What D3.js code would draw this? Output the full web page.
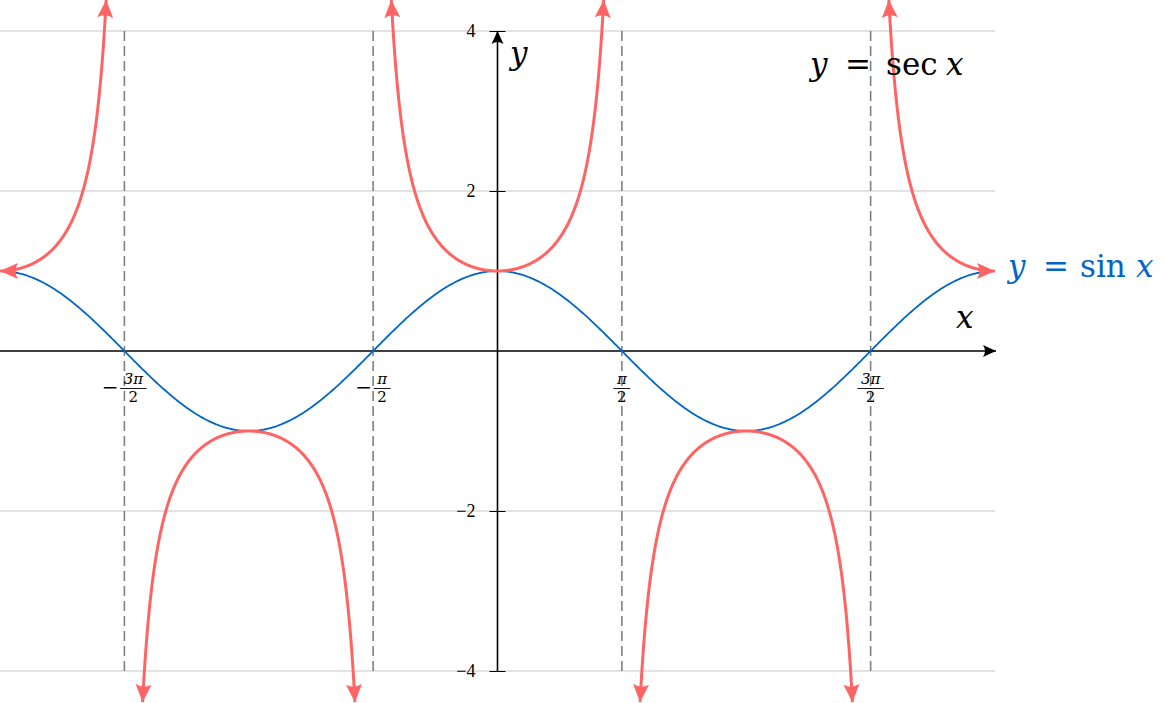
<!DOCTYPE html>
<html>
<head>
<meta charset="utf-8">
<script src="https://cdn.jsdelivr.net/npm/d3@7"></script>
<style>
  html, body { margin: 0; padding: 0; background: #fff; }
  svg { display: block; }
  text { font-family: "DejaVu Serif", "Liberation Serif", serif; }
</style>
</head>
<body>
<svg id="chart" width="1166" height="703"></svg>
<script>
// chart data
var PI = Math.PI;
var xDomain = [-2 * PI, 2 * PI];
var yDomain = [-4, 4];
var yTicks = [-4, -2, 2, 4];
var yTickLabels = ['\u22124', '\u22122', '2', '4'];
var gridValues = [-4, -2, 2, 4];
var asymptotes = [-3 * PI / 2, -PI / 2, PI / 2, 3 * PI / 2];
var xTickNum = ['3\u03c0', '\u03c0', '\u03c0', '3\u03c0'];
var xTickNeg = [true, true, false, false];
var branchCenters = [-2 * PI, -PI, 0, PI, 2 * PI];
var secCut = 4.39;

var svg = d3.select('#chart');

var x = d3.scaleLinear().domain(xDomain).range([0, 995]);
var y = d3.scaleLinear().domain(yDomain).range([671, 31]);

var red = '#ff6464', blue = '#0066c8';

// markers
var defs = svg.append('defs');
defs.append('marker')
  .attr('id', 'redArrow')
  .attr('markerUnits', 'userSpaceOnUse')
  .attr('viewBox', '-19 -9 20 18')
  .attr('refX', 0).attr('refY', 0)
  .attr('markerWidth', 20).attr('markerHeight', 18)
  .attr('orient', 'auto-start-reverse')
  .append('path')
  .attr('d', 'M0,0 L-18,-8 Q-13,0 -18,8 Z')
  .attr('fill', red);

defs.append('marker')
  .attr('id', 'blackArrow')
  .attr('markerUnits', 'userSpaceOnUse')
  .attr('viewBox', '-14 -7 15 14')
  .attr('refX', 0).attr('refY', 0)
  .attr('markerWidth', 15).attr('markerHeight', 14)
  .attr('orient', 'auto')
  .append('path')
  .attr('d', 'M0,0 L-13,-6 Q-9,0 -13,6 Z')
  .attr('fill', '#000');

// horizontal grid
svg.append('g').selectAll('line').data(gridValues).join('line')
  .attr('x1', 0).attr('x2', 995)
  .attr('y1', function (d) { return y(d); })
  .attr('y2', function (d) { return y(d); })
  .attr('stroke', '#c8c8c8').attr('stroke-width', 1.2);

// asymptotes
svg.append('g').selectAll('line').data(asymptotes).join('line')
  .attr('x1', function (d) { return x(d); })
  .attr('x2', function (d) { return x(d); })
  .attr('y1', y(4)).attr('y2', y(-4))
  .attr('stroke', '#808080').attr('stroke-width', 1.6)
  .attr('stroke-dasharray', '10,5');

// x axis
svg.append('line')
  .attr('x1', 0).attr('x2', 996)
  .attr('y1', y(0)).attr('y2', y(0))
  .attr('stroke', '#000').attr('stroke-width', 1.6)
  .attr('marker-end', 'url(#blackArrow)');

// y axis
var yAxis = d3.axisLeft(y).tickValues(yTicks).tickSize(8).tickPadding(14)
  .tickFormat(function (d, i) { return yTickLabels[i]; });
var gy = svg.append('g').attr('transform', 'translate(' + x(0) + ',0)').call(yAxis)
  .attr('font-size', 18).attr('font-family', '"Liberation Serif", serif');
gy.select('.domain').remove();
gy.selectAll('.tick line').attr('x1', 8).attr('stroke', '#000').attr('stroke-width', 1);
gy.selectAll('.tick text')
  .attr('font-size', 18)
  .style('font-family', '"Liberation Serif", serif')
  .style('font-size', '18px').attr('fill', '#000');
svg.append('line')
  .attr('x1', x(0)).attr('x2', x(0))
  .attr('y1', y(-4)).attr('y2', y(4))
  .attr('stroke', '#000').attr('stroke-width', 1.6)
  .attr('marker-end', 'url(#blackArrow)');

// x tick labels (fractions)
asymptotes.forEach(function (v, i) {
  var g = svg.append('g').style('font-family', '"Liberation Serif", serif');
  var tx = x(v);
  var num = g.append('text').style('font-size', '15px').style('font-style', 'italic')
    .attr('text-anchor', 'middle').attr('y', 384).text(xTickNum[i]);
  var fw = num.node().getComputedTextLength() + 7;
  var minusW = xTickNeg[i] ? 18 : 0;
  var fc = tx - (fw + minusW) / 2 + minusW + fw / 2;
  num.attr('x', fc);
  g.append('line').attr('x1', fc - fw / 2).attr('x2', fc + fw / 2)
    .attr('y1', 388.5).attr('y2', 388.5).attr('stroke', '#000').attr('stroke-width', 0.9);
  g.append('text').style('font-size', '15px').attr('text-anchor', 'middle')
    .attr('x', fc).attr('y', 402).text('2');
  if (xTickNeg[i]) {
    g.append('text').style('font-size', '20px').attr('text-anchor', 'middle')
      .attr('x', fc - fw / 2 - 10).attr('y', 394).text('\u2212');
  }
});

// cosine curve (labelled y = sin x in the original)
var line = d3.line().x(function (d) { return x(d[0]); }).y(function (d) { return y(d[1]); });
var cosPts = d3.range(0, 601).map(function (i) {
  var t = xDomain[0] + (xDomain[1] - xDomain[0]) * i / 600;
  return [t, Math.cos(t)];
});
svg.append('path').datum(cosPts)
  .attr('d', line).attr('fill', 'none')
  .attr('stroke', blue).attr('stroke-width', 1.8);

// secant branches
var half = Math.acos(1 / secCut);
branchCenters.forEach(function (c) {
  var a = Math.max(c - half, xDomain[0]);
  var b = Math.min(c + half, xDomain[1]);
  var pts = d3.range(0, 401).map(function (i) {
    var t = a + (b - a) * i / 400;
    return [t, 1 / Math.cos(t)];
  });
  svg.append('path').datum(pts)
    .attr('d', line).attr('fill', 'none')
    .attr('stroke', red).attr('stroke-width', 3)
    .attr('marker-start', 'url(#redArrow)')
    .attr('marker-end', 'url(#redArrow)');
});

// labels: each part placed at its own x
function mathLabel(ty, parts, color, size) {
  var t = svg.append('text').attr('y', ty)
    .style('font-size', size + 'px').attr('fill', color);
  parts.forEach(function (p) {
    t.append('tspan').attr('x', p[2])
      .style('font-style', p[1] ? 'italic' : 'normal').text(p[0]);
  });
  return t;
}
mathLabel(64, [['y', true, 510]], '#000', 31);
mathLabel(328, [['x', true, 956]], '#000', 31);
mathLabel(75, [['y', true, 810], ['=', false, 845], ['sec', false, 886], ['x', true, 946]], '#000', 31);
mathLabel(277, [['y', true, 1008], ['=', false, 1043], ['sin', false, 1080], ['x', true, 1136]], blue, 31);
</script>
</body>
</html>
